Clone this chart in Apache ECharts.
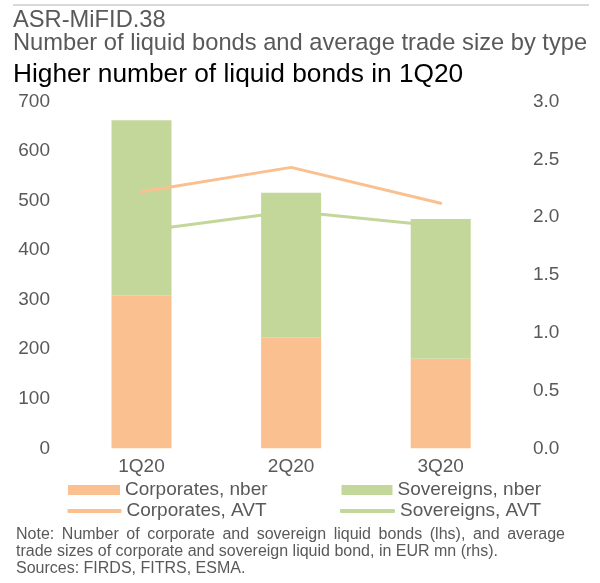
<!DOCTYPE html>
<html>
<head>
<meta charset="utf-8">
<script src="https://cdn.jsdelivr.net/npm/echarts@6/dist/echarts.min.js"></script>
<style>
html,body{margin:0;padding:0;background:#fff;}
#chart{width:600px;height:583px;}
</style>
</head>
<body>
<div id="chart"></div>
<script>
// ---- data ----
var categories = ['1Q20', '2Q20', '3Q20'];
var corporatesNber = [309, 224, 181];
var sovereignsNber = [353, 292, 282];
var corporatesAvt = [2.22, 2.43, 2.12];
var sovereignsAvt = [1.88, 2.05, 1.92];
var seriesNames = ['Corporates, nber', 'Sovereigns, nber', 'Corporates, AVT', 'Sovereigns, AVT'];
var titleLines = ['ASR-MiFID.38', 'Number of liquid bonds and average trade size by type', 'Higher number of liquid bonds in 1Q20'];
var noteLines = [
  'Note: Number of corporate and sovereign liquid bonds (lhs), and average',
  'trade sizes of corporate and sovereign liquid bond, in EUR mn (rhs).',
  'Sources: FIRDS, FITRS, ESMA.'
];

// ---- styles ----
var FONT = '"Liberation Sans", Arial, sans-serif';
var GRAY = '#595959';
var ORANGE = '#FAC090';
var GREEN = '#C4D79B';

// justified first note line
var ctx = document.createElement('canvas').getContext('2d');
ctx.font = '16px "Liberation Sans", Arial, sans-serif';
function justifiedWords(text, x0, x1, yMid) {
  var words = text.split(' ');
  var widths = words.map(function (w) { return ctx.measureText(w).width; });
  var total = widths.reduce(function (a, b) { return a + b; }, 0);
  var gap = (x1 - x0 - total) / (words.length - 1);
  var x = x0, els = [];
  words.forEach(function (w, i) {
    els.push({ type: 'text', x: x, y: yMid, style: { text: w, font: '16px ' + FONT, fill: GRAY, verticalAlign: 'middle' } });
    x += widths[i] + gap;
  });
  return els;
}

function txt(s, x, y, size, color) {
  return { type: 'text', x: x, y: y, style: { text: s, font: size + 'px ' + FONT, fill: color, verticalAlign: 'middle' } };
}

var graphics = [
  { type: 'line', shape: { x1: 13, y1: 5, x2: 589, y2: 5 }, style: { stroke: '#D9D9D9', lineWidth: 2 } },
  txt(titleLines[0], 13, 20, 23.7, GRAY),
  txt(titleLines[1], 13, 43.7, 23.7, GRAY),
  txt(titleLines[2], 13, 75, 26.3, '#000')
];
graphics = graphics.concat(justifiedWords(noteLines[0], 16, 565, 535));
graphics.push(txt(noteLines[1], 16, 552, 16, GRAY));
graphics.push(txt(noteLines[2], 16, 569, 16, GRAY));

function legendAt(name, left, top, w, h, icon) {
  return {
    data: [{ name: name, icon: icon }],
    left: left, top: top,
    itemWidth: w, itemHeight: h,
    textStyle: { fontFamily: FONT, fontSize: 19, color: GRAY, lineHeight: 20 },
    selectedMode: false,
    padding: 0
  };
}

var chart = echarts.init(document.getElementById('chart'), null, { renderer: 'canvas' });
chart.setOption({
  animation: false,
  backgroundColor: '#fff',
  textStyle: { fontFamily: FONT },
  graphic: graphics,
  legend: [
    legendAt(seriesNames[0], 68, 480, 52, 10, 'rect'),
    legendAt(seriesNames[1], 341.5, 480, 51, 10, 'rect'),
    legendAt(seriesNames[2], 67.5, 501, 54, 4, 'roundRect'),
    legendAt(seriesNames[3], 340, 501, 55, 4, 'roundRect')
  ],
  grid: { left: 66.7, right: 84.5, top: 101.5, bottom: 134.7, containLabel: false },
  xAxis: {
    type: 'category',
    data: categories,
    axisLine: { show: false },
    axisTick: { show: false },
    axisLabel: { color: GRAY, fontSize: 19, fontFamily: FONT, margin: 9 }
  },
  yAxis: [
    {
      type: 'value', min: 0, max: 700, interval: 100,
      axisLine: { show: false }, axisTick: { show: false }, splitLine: { show: false },
      axisLabel: { color: GRAY, fontSize: 19, fontFamily: FONT, margin: 16.7 }
    },
    {
      type: 'value', min: 0, max: 3, interval: 0.5,
      axisLine: { show: false }, axisTick: { show: false }, splitLine: { show: false },
      axisLabel: { color: GRAY, fontSize: 19, fontFamily: FONT, margin: 17.5, formatter: function (v) { return v.toFixed(1); } }
    }
  ],
  series: [
    { name: seriesNames[0], type: 'bar', stack: 'n', barWidth: 60, data: corporatesNber, itemStyle: { color: ORANGE } },
    { name: seriesNames[1], type: 'bar', stack: 'n', barWidth: 60, data: sovereignsNber, itemStyle: { color: GREEN } },
    { name: seriesNames[2], type: 'line', yAxisIndex: 1, data: corporatesAvt, symbol: 'none', lineStyle: { color: ORANGE, width: 3, cap: 'round' }, itemStyle: { color: ORANGE }, z: 3 },
    { name: seriesNames[3], type: 'line', yAxisIndex: 1, data: sovereignsAvt, symbol: 'none', lineStyle: { color: GREEN, width: 3, cap: 'round' }, itemStyle: { color: GREEN }, z: 3 }
  ]
});
</script>
</body>
</html>
